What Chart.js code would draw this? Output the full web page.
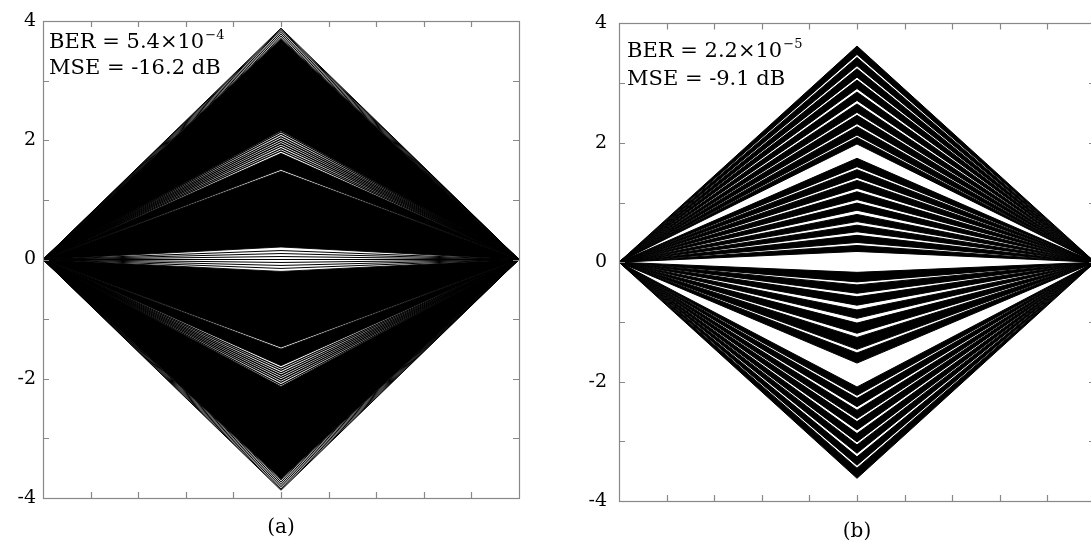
<!DOCTYPE html>
<html>
<head>
<meta charset="utf-8">
<script src="https://cdn.jsdelivr.net/npm/chart.js@4.4.1/dist/chart.umd.min.js"></script>
<style>
  html, body { margin: 0; padding: 0; background: #fff; overflow: hidden; }
  body { width: 1091px; height: 552px; position: relative; }
  canvas { position: absolute; top: 0; }
  #eyeA { left: 0; }
  #eyeB { left: 560px; }
  .cap { position: absolute; font-family: 'DejaVu Serif', serif; font-size: 20px; color: #000; transform: translateX(-50%); white-space: nowrap; }
</style>
</head>
<body>
<canvas id="eyeA" width="540" height="552"></canvas>
<canvas id="eyeB" width="560" height="552"></canvas>
<div class="cap" style="left:281px; top:514px;">(a)</div>
<div class="cap" style="left:857px; top:518px;">(b)</div>
<script>
// one symbol period: start, decision instant, end
var symbolTimes = [0, 5, 10];

// axis ticks
var xTicks = [1, 2, 3, 4, 5, 6, 7, 8, 9];
var yTicks = [-3, -2, -1, 0, 1, 2, 3];
var yLabels = [-4, -2, 0, 2, 4];

// (a) values at the decision instant
var edgeTracesA = [3.88, 3.86, 3.84, 3.81, 3.78, 3.75, 3.72, -3.70, -3.73, -3.76, -3.79, -3.82, -3.85, -3.87];
var bandsA = [[3.70, 2.16], [1.78, 1.51], [1.48, 0.21], [-0.20, -1.47], [-1.50, -1.78], [-2.13, -3.68]];
var clusterTracesA = [2.14, 2.10, 2.06, 2.02, 1.98, 1.94, 1.90, 1.86, 1.82,
                      -1.82, -1.86, -1.90, -1.94, -1.98, -2.02, -2.06, -2.10];
var lensTracesA = [0.15, 0.10, 0.05, 0.00, -0.05, -0.10, -0.15];

// (b) bundles of traces, [top, bottom] at the decision instant
var outerUpperB = [[3.62, 3.48], [3.43, 3.29], [3.24, 3.10], [3.05, 2.91], [2.85, 2.71],
                   [2.65, 2.51], [2.46, 2.32], [2.27, 2.13], [2.09, 1.98]];
var innerUpperB = [[1.74, 1.60], [1.55, 1.42], [1.37, 1.24], [1.18, 1.05], [0.99, 0.87],
                   [0.80, 0.68], [0.62, 0.51], [0.45, 0.33], [0.28, 0.18]];
var innerLowerB = [[-0.17, -0.33], [-0.38, -0.52], [-0.58, -0.72], [-0.80, -0.94],
                   [-1.02, -1.19], [-1.26, -1.46], [-1.52, -1.69]];
var outerLowerB = [[-2.09, -2.23], [-2.28, -2.42], [-2.48, -2.62], [-2.67, -2.81],
                   [-2.87, -3.01], [-3.06, -3.20], [-3.26, -3.40], [-3.45, -3.62]];

var noteA = { ber: 'BER = 5.4\u00d710', exp: '\u22124', mse: 'MSE = -16.2 dB' };
var noteB = { ber: 'BER = 2.2\u00d710', exp: '\u22125', mse: 'MSE = -9.1 dB' };

Chart.defaults.font.family = "'DejaVu Serif', serif";
Chart.defaults.color = '#000';

function trace(peak, width) {
    return {
        data: symbolTimes.map(function (t) {
            return { x: t, y: t === symbolTimes[1] ? peak : 0 };
        }),
        borderColor: '#000',
        borderWidth: width,
        pointRadius: 0,
        tension: 0,
        fill: false
    };
}

// a bundle is drawn as the area between its top and bottom trace
function pushBand(list, band, width) {
    var top = trace(band[0], width);
    top.fill = '+1';
    top.backgroundColor = '#000';
    list.push(top);
    list.push(trace(band[1], width));
}

var framePlugin = {
    id: 'frame',
    afterDatasetsDraw: function (chart, args, opts) {
        var ctx = chart.ctx, a = chart.chartArea;
        var xs = chart.scales.x, ys = chart.scales.y;
        ctx.save();
        ctx.strokeStyle = '#888';
        ctx.lineWidth = 1.2;
        ctx.beginPath();
        xTicks.forEach(function (v) {
            var px = Math.round(xs.getPixelForValue(v)) + 0.5;
            ctx.moveTo(px, a.bottom); ctx.lineTo(px, a.bottom - 6);
            ctx.moveTo(px, a.top); ctx.lineTo(px, a.top + 6);
        });
        yTicks.forEach(function (v) {
            var py = Math.round(ys.getPixelForValue(v)) + 0.5;
            ctx.moveTo(a.left, py); ctx.lineTo(a.left + 6, py);
            ctx.moveTo(a.right, py); ctx.lineTo(a.right - 6, py);
        });
        ctx.stroke();
        ctx.strokeRect(Math.round(a.left) + 0.5, Math.round(a.top) + 0.5,
                       Math.round(a.right - a.left), Math.round(a.bottom - a.top));

        // BER / MSE note in the upper left corner
        var n = opts.note, x = a.left + opts.dx;
        ctx.fillStyle = '#000';
        ctx.textBaseline = 'alphabetic';
        ctx.textAlign = 'left';
        ctx.font = "21px 'DejaVu Serif'";
        ctx.fillText(n.ber, x, a.top + opts.y1);
        var w = ctx.measureText(n.ber).width;
        ctx.fillText(n.mse, x, a.top + opts.y2);
        ctx.font = "13px 'DejaVu Serif'";
        ctx.fillText(n.exp, x + w + 1, a.top + opts.y1 - 9);
        ctx.restore();
    }
};

function eyeChart(id, datasets, pad, axisWidth, labelPad, note) {
    return new Chart(document.getElementById(id).getContext('2d'), {
        type: 'line',
        data: { datasets: datasets },
        options: {
            responsive: false,
            animation: false,
            events: [],
            layout: { padding: pad },
            plugins: {
                legend: { display: false },
                tooltip: { enabled: false },
                frame: note
            },
            scales: {
                x: { type: 'linear', display: false, min: 0, max: 10 },
                y: {
                    type: 'linear', min: -4, max: 4,
                    grid: { display: false, drawTicks: false },
                    border: { display: false },
                    afterFit: function (scale) { scale.width = axisWidth; },
                    afterBuildTicks: function (scale) {
                        scale.ticks = yLabels.map(function (v) { return { value: v }; });
                    },
                    ticks: {
                        padding: labelPad,
                        font: { size: 19 },
                        color: '#000',
                        callback: function (v) { return String(v); }
                    }
                }
            }
        },
        plugins: [framePlugin]
    });
}

var setA = [];
edgeTracesA.forEach(function (v) { setA.push(trace(v, 1)); });
bandsA.forEach(function (b) { pushBand(setA, b, 0.9); });
clusterTracesA.forEach(function (v) { setA.push(trace(v, 1.3)); });
lensTracesA.forEach(function (v) { setA.push(trace(v, 1)); });

var setB = [];
[outerUpperB, innerUpperB, innerLowerB, outerLowerB].forEach(function (group) {
    group.forEach(function (b) { pushBand(setB, b, 1); });
});

eyeChart('eyeA', setA, { left: 0, right: 21, top: 21, bottom: 54 }, 43, 7,
         { note: noteA, dx: 6, y1: 27, y2: 53 });
eyeChart('eyeB', setB, { left: 0, right: 25, top: 23, bottom: 51 }, 59, 12,
         { note: noteB, dx: 8, y1: 34, y2: 62 });
</script>
</body>
</html>
